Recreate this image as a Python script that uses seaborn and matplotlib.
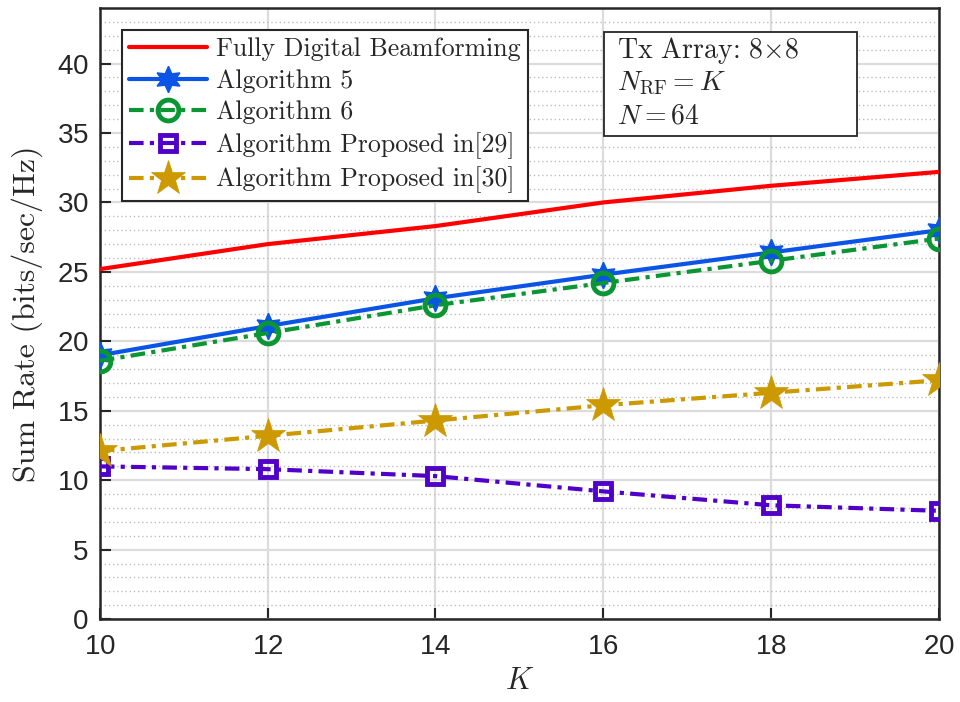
import numpy as np
import pandas as pd
import matplotlib
matplotlib.use("Agg")
import matplotlib.pyplot as plt
import seaborn as sns
from matplotlib.ticker import MultipleLocator
from matplotlib.patches import Rectangle

# データ
K = [10, 12, 14, 16, 18, 20]
fully_digital = [25.2, 27.0, 28.3, 30.0, 31.2, 32.2]
alg5 = [19.0, 21.1, 23.1, 24.8, 26.4, 28.0]
alg6 = [18.6, 20.6, 22.6, 24.2, 25.8, 27.4]
prop29 = [11.0, 10.8, 10.3, 9.2, 8.2, 7.8]
prop30 = [12.1, 13.2, 14.3, 15.4, 16.3, 17.2]

labels = ["Fully Digital Beamforming", "Algorithm 5", "Algorithm 6",
          "Algorithm Proposed in[29]", "Algorithm Proposed in[30]"]
info_lines = ["Tx Array: $8{\\times}8$", "$N_{\\mathrm{RF}} = K$", "$N = 64$"]

sns.set_theme(style="white")
plt.rcParams["font.family"] = ["Liberation Sans", "DejaVu Sans"]
plt.rcParams["mathtext.fontset"] = "cm"
plt.rcParams["axes.formatter.use_mathtext"] = True

fig = plt.figure(figsize=(9.6, 7.02), dpi=100)
ax = fig.add_axes([0.104, 0.118, 0.874, 0.8706])

dashdot = (0, (3.5, 1.5, 1, 1.5))
lw = 3.0

# 各系列の描画
sns.lineplot(x=K, y=fully_digital, ax=ax, color="#FF0000", lw=lw,
             label=labels[0], zorder=3)
sns.lineplot(x=K, y=alg5, ax=ax, color="#0A55E6", lw=lw, marker=(6, 1, 0),
             markersize=19, markeredgecolor="#0A55E6", markeredgewidth=1,
             label=labels[1], zorder=3)
sns.lineplot(x=K, y=alg6, ax=ax, color="#0A9632", lw=lw, linestyle=dashdot,
             marker="o", markersize=15, markerfacecolor="none",
             markeredgecolor="#0A9632", markeredgewidth=3.5,
             label=labels[2], zorder=3)
sns.lineplot(x=K, y=prop29, ax=ax, color="#5000C8", lw=lw, linestyle=dashdot,
             marker="s", markersize=12, markerfacecolor="none",
             markeredgecolor="#5000C8", markeredgewidth=3.5,
             label=labels[3], zorder=3)
sns.lineplot(x=K, y=prop30, ax=ax, color="#CC9900", lw=lw, linestyle=dashdot,
             marker="*", markersize=26, markeredgecolor="#CC9900",
             markeredgewidth=0.5, label=labels[4], zorder=3)

ax.set_xlim(10, 20)
ax.set_ylim(0, 44)
ax.xaxis.set_major_locator(MultipleLocator(2))
ax.yaxis.set_minor_locator(MultipleLocator(1))
ax.set_yticks(range(0, 41, 5))

# グリッド
ax.grid(which="major", color="#DCDCDC", lw=1.6, ls="-", zorder=0)
ax.grid(which="minor", axis="y", color="#BEBEBE", lw=1.0, ls=(0, (1, 2)), zorder=0)
ax.set_axisbelow(True)

for sp in ax.spines.values():
    sp.set_color("#262626")
    sp.set_linewidth(1.8)
ax.tick_params(which="major", direction="in", length=8, width=1.5,
               labelsize=20, colors="#262626", left=True, bottom=True)
ax.tick_params(axis="y", pad=8)
ax.tick_params(axis="x", pad=11)
ax.tick_params(which="minor", length=0)

ax.set_xlabel("$K$", fontsize=22, labelpad=4)
ax.set_ylabel("Sum Rate (bits/sec/Hz)", fontsize=23, family="cmr10", labelpad=10)

leg = ax.legend(loc="upper left", bbox_to_anchor=(0.026, 0.964), fancybox=False,
                framealpha=1, edgecolor="#262626", borderaxespad=0,
                prop={"family": "cmr10", "size": 18.6}, handlelength=3.0,
                labelspacing=0.3, borderpad=0.3, handletextpad=0.35)
leg.get_frame().set_linewidth(1.5)

# 注釈ボックス
ax.add_patch(Rectangle((0.6007, 0.7905), 0.3016, 0.1702, transform=ax.transAxes,
                       fc="white", ec="#262626", lw=1.3, zorder=5))
for i, line in enumerate(info_lines):
    ax.text(0.6162, 0.931 - i * 0.054, line, transform=ax.transAxes,
            ha="left", va="center", fontsize=20, family="cmr10", zorder=6)

fig.savefig("out.png", dpi=100)
